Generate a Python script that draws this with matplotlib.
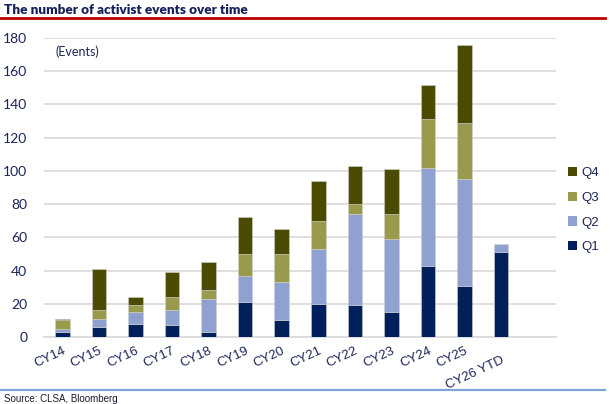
import matplotlib
matplotlib.use("Agg")
import matplotlib.pyplot as plt
import matplotlib.transforms as mtransforms
import numpy as np
from matplotlib.lines import Line2D
from matplotlib.patches import Patch

categories = ["CY14", "CY15", "CY16", "CY17", "CY18", "CY19", "CY20",
              "CY21", "CY22", "CY23", "CY24", "CY25", "CY26 YTD"]
q1 = [3, 6, 8, 7, 3, 21, 10, 20, 19, 15, 43, 31, 51]
q2 = [2, 5, 7, 9, 20, 16, 23, 33, 55, 44, 59, 64, 5]
q3 = [5, 5, 4, 8, 5, 13, 17, 17, 6, 15, 29, 34, 0]
q4 = [1, 25, 5, 15, 17, 22, 15, 24, 23, 27, 21, 47, 0]
series_names = ["Q1", "Q2", "Q3", "Q4"]
yticks = [0, 20, 40, 60, 80, 100, 120, 140, 160, 180]

colors = {"Q1": "#00205b", "Q2": "#8fa1d1", "Q3": "#9a9a4c", "Q4": "#4b4b00"}
navy = "#1c2557"

fig = plt.figure(figsize=(6.10, 4.04), dpi=100)
ax = fig.add_axes([44/610, 1-337/404, 512/610, 299/404])

x = np.arange(len(categories))
bottom = np.zeros(len(categories))
for name, vals in zip(series_names, [q1, q2, q3, q4]):
    v = np.array(vals, dtype=float)
    ax.bar(x, v, width=0.4, bottom=bottom, color=colors[name],
           edgecolor="#d0d0d0", linewidth=0.4, zorder=3)
    bottom += v

ax.set_xlim(-0.5, 13.5)
ax.set_ylim(0, 180)
ax.set_yticks(yticks)
ax.set_yticklabels([str(t) for t in yticks], fontfamily="Lato", fontsize=10, color=navy)
ax.yaxis.grid(True, color="#d9d9d9", linewidth=1.2, zorder=0)
ax.set_axisbelow(True)
for s in ["top", "right", "left"]:
    ax.spines[s].set_visible(False)
ax.spines["bottom"].set_color("#d9d9d9")
ax.spines["bottom"].set_linewidth(1.2)
ax.tick_params(axis="y", length=0, pad=12)
ax.tick_params(axis="x", length=0, pad=6)
ax.set_xticks(x)
ax.set_xticklabels(categories, rotation=25, ha="right", rotation_mode="anchor",
                   fontfamily="Liberation Sans", fontsize=9.5, color=navy)
last = ax.get_xticklabels()[-1]
last.set_transform(last.get_transform() +
                   mtransforms.ScaledTranslation(0, -9/100, fig.dpi_scale_trans))

ax.text(0.022, 0.953, "(Events)", transform=ax.transAxes, fontfamily="Lato",
        fontsize=9, color=navy, va="center", ha="left")

leg_handles = [Patch(facecolor=colors[n], edgecolor="none") for n in ["Q4", "Q3", "Q2", "Q1"]]
leg = fig.legend(leg_handles, ["Q4", "Q3", "Q2", "Q1"], loc="upper left",
                 bbox_to_anchor=(556/610, 1-155/404), frameon=False,
                 handlelength=0.7, handleheight=0.7, handletextpad=0.3,
                 labelspacing=0.95, prop={"family": "Liberation Sans", "size": 9.5})
for t in leg.get_texts():
    t.set_color(navy)

fig.text(4/610, 1-10/404, "The number of activist events over time", fontfamily="Lato",
         fontweight="heavy", fontsize=9.7, color="#16205a", va="center", ha="left")
fig.add_artist(Line2D([0, 605/610], [1-18/404, 1-18/404], color="#c00000", linewidth=2,
                      transform=fig.transFigure))
fig.add_artist(Line2D([0, 605/610], [1-390/404, 1-390/404], color="#7fa6d6", linewidth=1.6,
                      transform=fig.transFigure))
fig.text(4/610, 1-399/404, "Source: CLSA, Bloomberg", fontfamily="Liberation Sans",
         fontsize=7, color="#1a1a2e", va="center", ha="left")

fig.savefig("out.png", dpi=100)
